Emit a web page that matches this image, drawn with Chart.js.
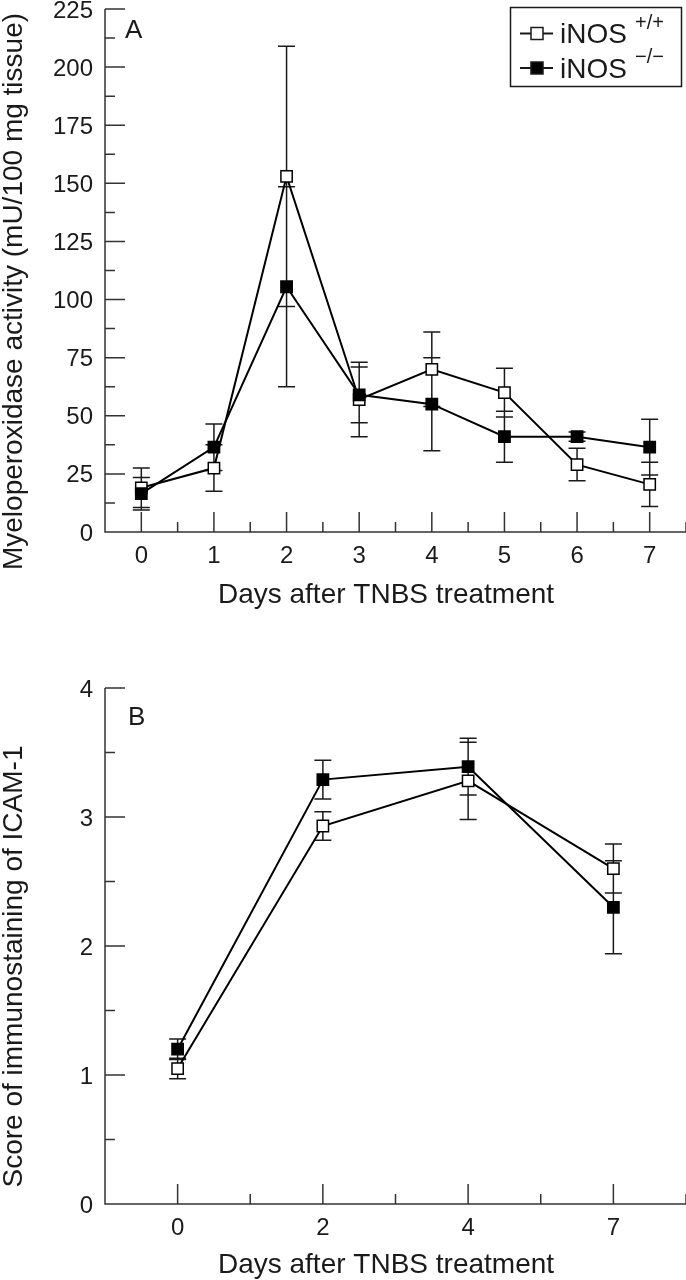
<!DOCTYPE html>
<html>
<head>
<meta charset="utf-8">
<script src="https://cdn.jsdelivr.net/npm/chart.js@4.4.1/dist/chart.umd.min.js"></script>
<style>
  html, body { margin: 0; padding: 0; background: #fff; }
  .panel { position: absolute; left: 0; width: 686px; height: 640px; }
  #panelA { top: 0; }
  #panelB { top: 640px; }
</style>
</head>
<body>
<div class="panel" id="panelA"><canvas id="chartA" width="686" height="640"></canvas></div>
<div class="panel" id="panelB"><canvas id="chartB" width="686" height="640"></canvas></div>
<script>
// --- data, panel A (MPO activity) ---
const daysA = ['0', '1', '2', '3', '4', '5', '6', '7'];
const mpoWild = [19, 27.5, 153, 57, 70, 60, 29, 20.5];
const mpoWildErr = [8.5, 10, 56, 16, 16, 10.5, 7, 9.5];
const mpoKo = [16.5, 36.5, 105.5, 59, 55, 41, 41, 36.5];
const mpoKoErr = [7, 10, 43, 12, 20, 11, 2, 12];
const mpoTicks = [0, 25, 50, 75, 100, 125, 150, 175, 200, 225];

// --- data, panel B (ICAM-1 score) ---
const daysB = ['0', '2', '4', '7'];
const icamWild = [1.05, 2.93, 3.28, 2.60];
const icamWildErr = [0.08, 0.11, 0.30, 0.19];
const icamKo = [1.20, 3.29, 3.39, 2.30];
const icamKoErr = [0.08, 0.15, 0.22, 0.36];
const icamTicks = [0, 1, 2, 3, 4];

const xTitle = 'Days after TNBS treatment';
const yTitleA = 'Myeloperoxidase activity (mU/100 mg tissue)';
const yTitleB = 'Score of immunostaining of ICAM-1';
const legendNames = ['iNOS', 'iNOS'];
const legendSups = ['+/+', '\u2212/\u2212'];

const FONT = '"Liberation Sans", Arial, Helvetica, sans-serif';
const INK = '#1a1a1a';

// axes with inward ticks, tick labels, error bars, titles, legend
const decor = {
  id: 'decor',
  beforeDatasetsDraw(chart, args, o) {
    const ctx = chart.ctx, xs = chart.scales.x, ys = chart.scales.y;
    const a = chart.chartArea;
    const n = chart.data.labels.length;
    const t = o.yTicks;
    ctx.save();
    ctx.strokeStyle = '#333';
    ctx.lineWidth = 1.5;
    ctx.beginPath();
    ctx.moveTo(a.left, a.top); ctx.lineTo(a.left, a.bottom); ctx.lineTo(a.right, a.bottom);
    for (let i = 0; i < n; i++) {
      const px = xs.getPixelForValue(i);
      ctx.moveTo(px, a.bottom); ctx.lineTo(px, a.bottom - 20);
      const pm = xs.getPixelForValue(i + 0.5);
      ctx.moveTo(pm, a.bottom); ctx.lineTo(pm, a.bottom - 10);
    }
    for (let i = 1; i < t.length; i++) {
      const py = ys.getPixelForValue(t[i]);
      ctx.moveTo(a.left, py); ctx.lineTo(a.left + 20, py);
      const pm = ys.getPixelForValue((t[i] + t[i - 1]) / 2);
      ctx.moveTo(a.left, pm); ctx.lineTo(a.left + 10, pm);
    }
    ctx.stroke();

    // tick labels
    ctx.fillStyle = INK;
    ctx.font = '24px ' + FONT;
    ctx.textAlign = 'center';
    ctx.textBaseline = 'alphabetic';
    chart.data.labels.forEach((lab, i) => {
      ctx.fillText(lab, xs.getPixelForValue(i), a.bottom + 30.5);
    });
    ctx.textAlign = 'right';
    t.forEach(v => {
      ctx.fillText(String(v), 93, ys.getPixelForValue(v) + 8.5);
    });

    // error bars
    ctx.strokeStyle = INK;
    ctx.beginPath();
    chart.data.datasets.forEach(ds => {
      ds.data.forEach((v, i) => {
        const e = ds.err[i];
        const px = xs.getPixelForValue(i);
        const top = ys.getPixelForValue(v + e), bot = ys.getPixelForValue(v - e);
        ctx.moveTo(px, top); ctx.lineTo(px, bot);
        ctx.moveTo(px - 8.5, top); ctx.lineTo(px + 8.5, top);
        ctx.moveTo(px - 8.5, bot); ctx.lineTo(px + 8.5, bot);
      });
    });
    ctx.stroke();
    ctx.restore();
  },
  afterDraw(chart, args, o) {
    const ctx = chart.ctx;
    ctx.save();
    ctx.fillStyle = INK;
    ctx.font = '28px ' + FONT;
    ctx.textAlign = 'center';
    ctx.textBaseline = 'alphabetic';
    ctx.fillText(xTitle, 386, o.xTitleY);
    ctx.save();
    ctx.translate(22, o.yTitleMid);
    ctx.rotate(-Math.PI / 2);
    ctx.fillText(o.yTitle, 0, 0);
    ctx.restore();

    // panel letter
    ctx.textAlign = 'left';
    ctx.font = '26px ' + FONT;
    ctx.fillText(o.letter, o.letterX, o.letterY);

    if (o.legend) {
      ctx.strokeStyle = INK;
      ctx.lineWidth = 1.5;
      ctx.strokeRect(510.5, 7.5, 171, 79);
      const rows = [33.5, 68];
      chart.data.datasets.forEach((ds, k) => {
        const cy = rows[k];
        ctx.lineWidth = 2;
        ctx.beginPath(); ctx.moveTo(520, cy); ctx.lineTo(553, cy); ctx.stroke();
        ctx.fillStyle = ds.pointBackgroundColor;
        ctx.lineWidth = 1.5;
        ctx.fillRect(531, cy - 6, 12, 12);
        ctx.strokeRect(531, cy - 6, 12, 12);
        ctx.fillStyle = INK;
        ctx.font = '28px ' + FONT;
        ctx.fillText(legendNames[k], 560, cy + 9.5);
        ctx.font = '20px ' + FONT;
        ctx.fillText(legendSups[k], 635, cy - 5);
      });
    }
    ctx.restore();
  }
};

function series(label, values, errs, fill, order) {
  return {
    label: label,
    data: values,
    err: errs,
    borderColor: '#000',
    borderWidth: 2,
    pointStyle: 'rect',
    pointRadius: 8,
    pointBorderWidth: 1.5,
    pointBorderColor: '#000',
    pointBackgroundColor: fill,
    order: order
  };
}

function makePanel(id, labels, sets, yTicks, pad, o) {
  return new Chart(document.getElementById(id), {
    type: 'line',
    data: { labels: labels, datasets: sets },
    options: {
      responsive: false,
      animation: false,
      layout: { autoPadding: false, padding: { top: pad.top, right: 0, left: 0, bottom: 0 } },
      plugins: { legend: { display: false }, tooltip: { enabled: false }, decor: o },
      scales: {
        x: {
          type: 'category',
          offset: true,
          grid: { display: false, drawTicks: false },
          border: { display: false },
          ticks: { display: false },
          afterFit: s => { s.height = pad.xh; }
        },
        y: {
          min: yTicks[0],
          max: yTicks[yTicks.length - 1],
          grid: { display: false, drawTicks: false },
          border: { display: false },
          ticks: { display: false },
          afterFit: s => { s.width = 105; }
        }
      }
    },
    plugins: [decor]
  });
}

makePanel('chartA', daysA, [
  series('iNOS +/+', mpoWild, mpoWildErr, '#fff', 2),
  series('iNOS -/-', mpoKo, mpoKoErr, '#000', 1)
], mpoTicks, { top: 9, xh: 108 },
  { yTicks: mpoTicks, yTitle: yTitleA, yTitleMid: 291.5, xTitleY: 603, letter: 'A', letterX: 125, letterY: 38, legend: true });

makePanel('chartB', daysB, [
  series('iNOS +/+', icamWild, icamWildErr, '#fff', 2),
  series('iNOS -/-', icamKo, icamKoErr, '#000', 1)
], icamTicks, { top: 48, xh: 76 },
  { yTicks: icamTicks, yTitle: yTitleB, yTitleMid: 326.5, xTitleY: 633, letter: 'B', letterX: 128, letterY: 85, legend: false });
</script>
</body>
</html>
